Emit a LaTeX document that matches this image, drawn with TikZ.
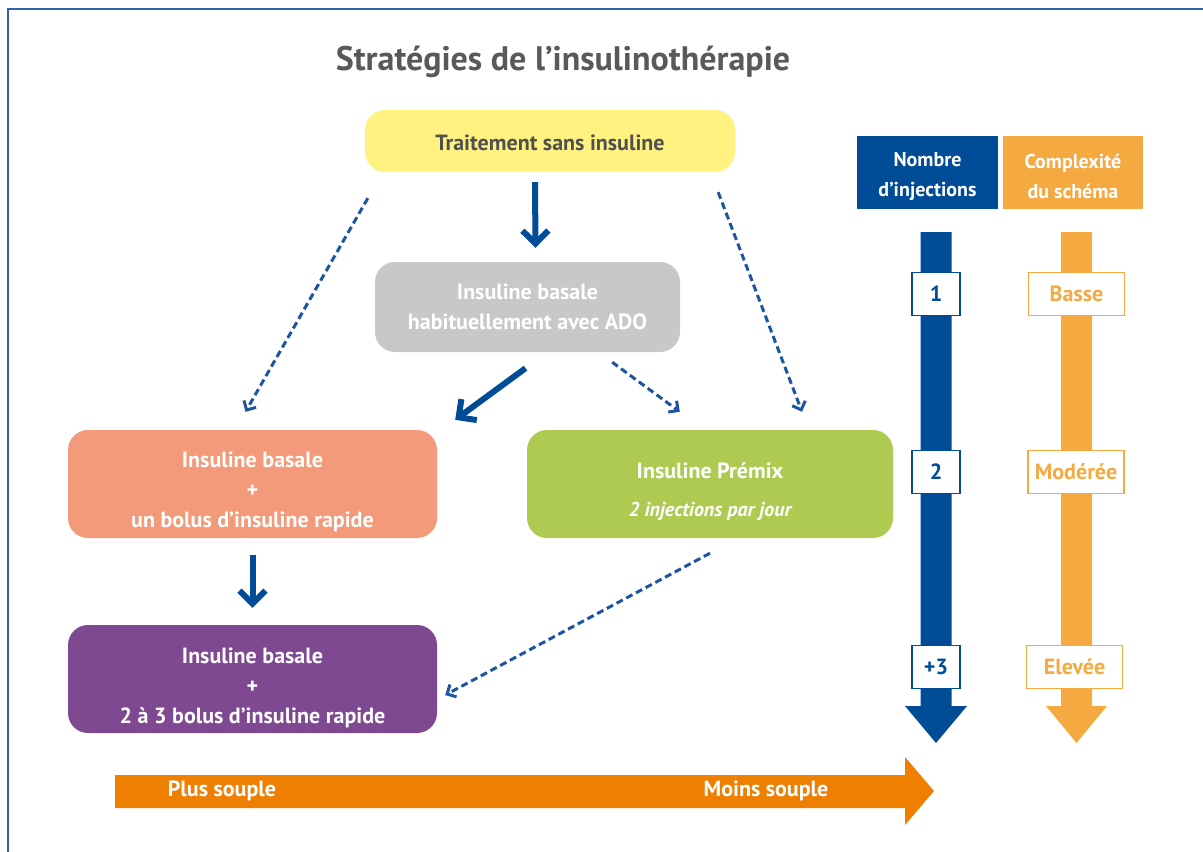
\documentclass[tikz,border=0pt]{standalone}
\usepackage{fontspec}
\setmainfont{PT Sans}
\usetikzlibrary{arrows.meta,calc}
\definecolor{cyel}{RGB}{255,242,128}
\definecolor{cgray}{RGB}{199,200,202}
\definecolor{csal}{RGB}{242,154,122}
\definecolor{cgreen}{RGB}{175,202,80}
\definecolor{cpurp}{RGB}{127,73,145}
\definecolor{cdblue}{RGB}{0,76,151}
\definecolor{clorange}{RGB}{245,169,65}
\definecolor{cborange}{RGB}{239,127,0}
\definecolor{ctitle}{RGB}{89,89,89}
\definecolor{cytext}{RGB}{80,80,80}
\definecolor{cdash}{RGB}{30,85,160}
\definecolor{cframe}{RGB}{46,100,170}
\begin{document}
\begin{tikzpicture}[x=1pt,y=-1pt,
  boxtxt/.style={font=\fontsize{22}{30}\selectfont\bfseries, align=center, text=white},
  flowbox/.style={boxtxt, rounded corners=20pt, inner sep=0pt},
  solidarrow/.style={draw=cdblue, line width=6pt, -{Straight Barb[length=13pt,width=26pt]}},
  dasharrow/.style={draw=cdash, line width=3pt, dash pattern=on 7pt off 4pt, -{Straight Barb[length=7pt,width=14pt]}},
  hdrbox/.style={boxtxt, inner sep=0pt, minimum width=141pt, minimum height=73pt, font=\fontsize{20}{30}\selectfont\bfseries},
  lblbox/.style={font=\fontsize{22}{24}\selectfont\bfseries, fill=white, line width=1.8pt, inner sep=0pt, minimum height=43pt},
  bottxt/.style={font=\fontsize{22}{24}\selectfont\bfseries, text=white}
]
\useasboundingbox (0,0) rectangle (1203,852);
% frame
\draw[cframe, line width=2.2pt] (8,852) -- (8,9) -- (1203,9);
% title
\node[font=\fontsize{34}{38}\selectfont\bfseries, text=ctitle] (title) at (563,62) {Stratégies de l’insulinothérapie};
% flow boxes
\node[flowbox, fill=cyel, text=cytext, minimum width=370pt, minimum height=62pt] (yellow) at (550,141) {\rule{0pt}{20pt}Traitement sans insuline};
\node[flowbox, fill=cgray, minimum width=305pt, minimum height=90pt] (gray) at (527.5,307) {Insuline basale\\habituellement avec ADO};
\node[flowbox, fill=csal, minimum width=369pt, minimum height=108pt] (salmon) at (252.5,484) {\rule{0pt}{31pt}Insuline basale\\+\\un bolus d’insuline rapide};
\node[flowbox, fill=cgreen, minimum width=366pt, minimum height=108pt] (green) at (710,484) {\rule{0pt}{31pt}Insuline Prémix\\[8pt]{\fontsize{20}{24}\selectfont\itshape 2 injections par jour}};
\node[flowbox, fill=cpurp, minimum width=369pt, minimum height=108pt] (purple) at (252.5,679) {\rule{0pt}{33pt}Insuline basale\\+\\2 à 3 bolus d’insuline rapide};
% connectors
\draw[solidarrow] ($(yellow.south)+(-15,10)$) -- ($(gray.north)+(8,-14)$);
\draw[solidarrow] ($(gray.south)+(-2,16)$) -- ($(salmon.north east)+(18,-10)$);
\draw[solidarrow] ($(salmon.south)+(0,17)$) -- ($(purple.north)+(0,-17)$);
\draw[dasharrow] ($(gray.south east)+(-68,10)$) -- ($(green.north west)+(153,-18)$);
\draw[dasharrow] ($(yellow.south west)+(3,26)$) -- ($(salmon.north)+(-7,-18)$);
\draw[dasharrow] ($(yellow.south east)+(-17,20)$) -- ($(green.north)+(92,-18)$);
\draw[dasharrow] ($(green.south)+(0,15)$) -- ($(purple.east)+(8,16)$);
% headers
\node[hdrbox, fill=cdblue] (hnb) at (927.5,172.5) {\rule{0pt}{23pt}Nombre\\d’injections};
\node[hdrbox, fill=clorange, minimum width=140pt] (hcx) at (1073,172.5) {\rule{0pt}{23pt}Complexité\\du schéma};
% vertical arrows
\fill[cdblue] (920.5,232) -- (951.5,232) -- (951.5,706) -- (967,706) -- (936,743) -- (905,706) -- (920.5,706) -- cycle;
\fill[clorange] (1061,232) -- (1092,232) -- (1092,706) -- (1107,706) -- (1076.5,743) -- (1046,706) -- (1061,706) -- cycle;
% label boxes
\node[lblbox, draw=cdblue, text=cdblue, minimum width=48pt] (n1) at (936,294) {1};
\node[lblbox, draw=cdblue, text=cdblue, minimum width=48pt] (n2) at (936,472) {2};
\node[lblbox, draw=cdblue, text=cdblue, minimum width=48pt] (n3) at (936,667) {+3};
\node[lblbox, draw=clorange, text=clorange, minimum width=96pt] (c1) at (1076.5,294) {Basse};
\node[lblbox, draw=clorange, text=clorange, minimum width=96pt] (c2) at (1076,472) {Modérée};
\node[lblbox, draw=clorange, text=clorange, minimum width=96pt] (c3) at (1074.5,667) {Elevée};
% bottom arrow
\fill[cborange] (115,775) -- (905,775) -- (905,757) -- (934,791) -- (905,825) -- (905,808) -- (115,808) -- cycle;
\node[bottxt] (plus) at (222,791) {Plus souple};
\node[bottxt] (moins) at (766,791) {Moins souple};
\end{tikzpicture}
\end{document}
